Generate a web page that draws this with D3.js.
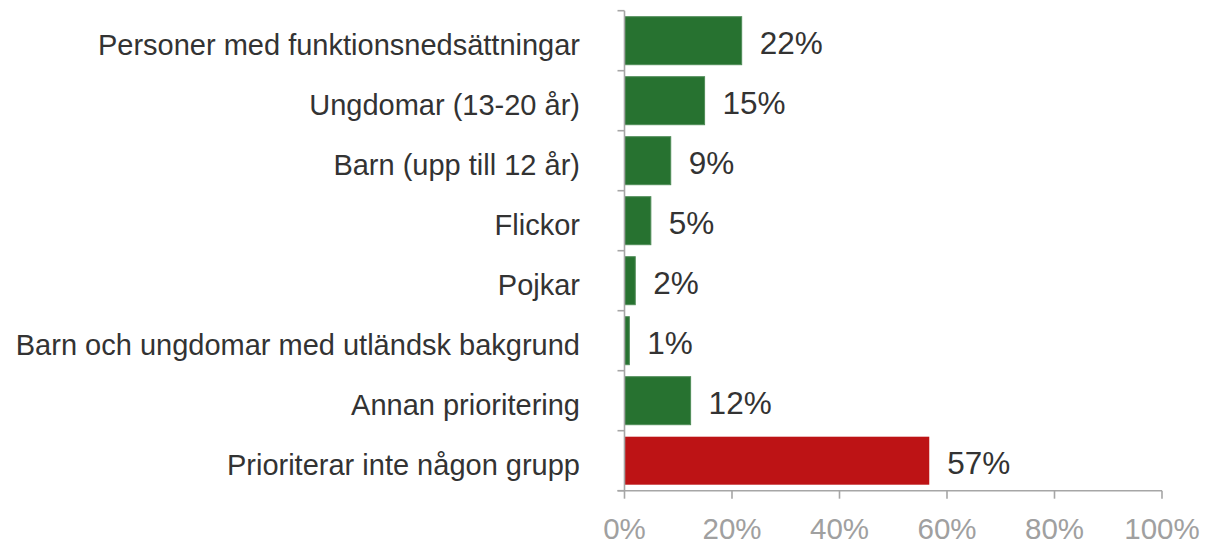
<!DOCTYPE html>
<html>
<head>
<meta charset="utf-8">
<script src="https://cdn.jsdelivr.net/npm/d3@7"></script>
<style>
  body { margin: 0; background: #fff; }
  svg { display: block; font-family: "Liberation Sans", Arial, sans-serif; }
  .cat { fill: #333; font-size: 29px; }
  .val { fill: #333; font-size: 31.5px; }
  .tick-label { fill: #a0a0a0; font-size: 29.5px; }
  .axis-line { stroke: #a6a6a6; stroke-width: 1.6px; }
</style>
</head>
<body>
<svg id="chart" width="1209" height="545"></svg>
<script>
  const categories = [
    "Personer med funktionsnedsättningar",
    "Ungdomar (13-20 år)",
    "Barn (upp till 12 år)",
    "Flickor",
    "Pojkar",
    "Barn och ungdomar med utländsk bakgrund",
    "Annan prioritering",
    "Prioriterar inte någon grupp"
  ];
  const values = [21.8, 14.9, 8.6, 4.9, 2.0, 0.9, 12.3, 56.7];
  const tickValues = [0, 20, 40, 60, 80, 100];
  const tickLabels = ["0%", "20%", "40%", "60%", "80%", "100%"];

  const svg = d3.select("#chart");

  const x = d3.scaleLinear()
    .domain([0, 100])
    .range([624.5, 1162]);

  const y = d3.scaleBand()
    .domain(categories)
    .range([10.7, 490.7])
    .paddingInner(0.2)
    .paddingOuter(0.1);

  const green = "#277230";
  const red = "#bd1315";

  // bars
  svg.selectAll(".bar")
    .data(categories)
    .enter().append("rect")
      .attr("class", "bar")
      .attr("x", x(0))
      .attr("y", d => y(d))
      .attr("width", (d, i) => x(values[i]) - x(0))
      .attr("height", y.bandwidth())
      .attr("fill", (d, i) => i === categories.length - 1 ? red : green)
      .attr("stroke", (d, i) => i === categories.length - 1 ? "none" : "#4f8c57")
      .attr("stroke-width", 1);

  // value labels
  svg.selectAll(".val")
    .data(categories)
    .enter().append("text")
      .attr("class", "val")
      .attr("x", (d, i) => x(values[i]) + 18)
      .attr("y", d => y(d) + y.bandwidth() / 2 + 13)
      .text((d, i) => Math.round(values[i]) + "%");

  // category labels
  svg.selectAll(".cat")
    .data(categories)
    .enter().append("text")
      .attr("class", "cat")
      .attr("x", 580)
      .attr("y", d => y(d) + y.bandwidth() / 2 + 14)
      .attr("text-anchor", "end")
      .text(d => d);

  // y axis line and band ticks
  const [y0, y1] = y.range();
  svg.append("line")
    .attr("class", "axis-line")
    .attr("x1", x(0)).attr("x2", x(0))
    .attr("y1", y0).attr("y2", y1);

  const bounds = categories.map(d => y(d) - y.step() * y.paddingOuter()).concat([y1]);
  svg.selectAll(".ytick")
    .data(bounds)
    .enter().append("line")
      .attr("class", "axis-line")
      .attr("x1", x(0) - 7).attr("x2", x(0))
      .attr("y1", d => d).attr("y2", d => d);

  // x axis
  svg.append("line")
    .attr("class", "axis-line")
    .attr("x1", x(0) - 7).attr("x2", x(100))
    .attr("y1", y1).attr("y2", y1);

  svg.selectAll(".xtick")
    .data(tickValues)
    .enter().append("line")
      .attr("class", "axis-line")
      .attr("x1", d => x(d)).attr("x2", d => x(d))
      .attr("y1", y1).attr("y2", y1 + 8);

  svg.selectAll(".tick-label")
    .data(tickValues)
    .enter().append("text")
      .attr("class", "tick-label")
      .attr("x", d => x(d))
      .attr("y", y1 + 48)
      .attr("text-anchor", "middle")
      .text((d, i) => tickLabels[i]);
</script>
</body>
</html>
